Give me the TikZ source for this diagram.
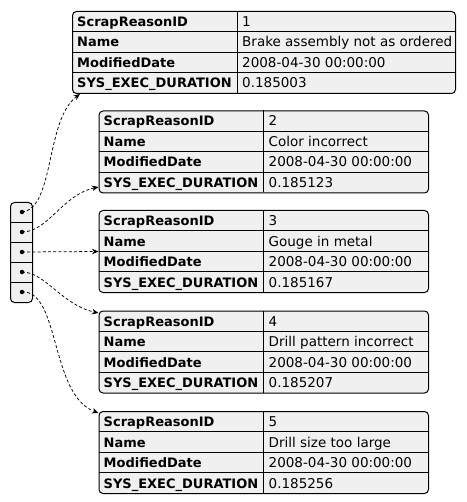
\documentclass[tikz,border=0pt]{standalone}
\usepackage{fontspec}
\setmainfont{DejaVu Sans}
\usetikzlibrary{arrows.meta,calc}
\definecolor{cellfill}{HTML}{F0F0F0}
\tikzset{
  x=1pt, y=-1pt,
  tbl/.style={draw=black, fill=cellfill, rounded corners=4pt, line width=1pt, inner sep=0pt},
  rule/.style={draw=black, line width=0.9pt},
  key/.style={font=\fontsize{13}{15}\selectfont\bfseries, inner sep=0pt, anchor=base west},
  val/.style={font=\fontsize{13.5}{15}\selectfont, inner sep=0pt, anchor=base west},
  dot/.style={circle, fill=black, inner sep=0pt, minimum size=4.5pt},
  link/.style={-{Stealth[length=6.5pt,width=5.5pt]}, dash pattern=on 3pt off 2.2pt, line width=0.75pt},
}
% #1 name, #2 left x, #3 top y, #4 right x, #5 id, #6 reason, #7 duration
\newcommand\recordtable[7]{%
  \node[tbl, anchor=north west, minimum width={(#4-#2)*1pt}, minimum height=82pt] (#1) at (#2,#3) {};
  \foreach \row in {1,2,3} \draw[rule] (#2,{#3+\row*20.5}) -- (#4,{#3+\row*20.5});
  \draw[rule] ({#2+165},#3) -- ({#2+165},{#3+82});
  \node[key] (#1k1) at ({#2+5},{#3+15.5}) {ScrapReasonID};
  \node[key] (#1k2) at ({#2+5},{#3+36}) {Name};
  \node[key] (#1k3) at ({#2+5},{#3+56.5}) {ModifiedDate};
  \node[key] (#1k4) at ({#2+5},{#3+77}) {SYS\_EXEC\_DURATION};
  \node[val] (#1v1) at ({#2+170},{#3+15.5}) {#5};
  \node[val] (#1v2) at ({#2+170},{#3+36}) {#6};
  \node[val] (#1v3) at ({#2+170},{#3+56.5}) {2008-04-30 00:00:00};
  \node[val] (#1v4) at ({#2+170},{#3+77}) {#7};
}
\begin{document}
\begin{tikzpicture}
\useasboundingbox (0,0) rectangle (466,502);

% the five records
\recordtable{t1}{72}{11}{455}{1}{Brake assembly not as ordered}{0.185003}
\recordtable{t2}{98.5}{110.5}{428}{2}{Color incorrect}{0.185123}
\recordtable{t3}{98.5}{210}{428}{3}{Gouge in metal}{0.185167}
\recordtable{t4}{98.5}{310.5}{428}{4}{Drill pattern incorrect}{0.185207}
\recordtable{t5}{98.5}{411}{428}{5}{Drill size too large}{0.185256}

% the array of pointers
\node[tbl, anchor=north west, minimum width=22pt, minimum height=100pt] (arr) at (10,202) {};
\foreach \row in {1,2,3,4} \draw[rule] (10,{202+\row*20}) -- (32,{202+\row*20});
\foreach \i in {1,...,5} \node[dot] (p\i) at (22,{192+\i*20}) {};

% arrow heads land on the record borders
\coordinate (h1) at (80,94);
\coordinate (h2) at (98.5,187);
\coordinate (h4) at (98.5,313);
\coordinate (h5) at (98.5,413);

\draw[link] (p1.center) .. controls (55,208) and (45,120) .. (h1);
\draw[link] (p2.center) .. controls (48,232) and (62,195) .. (h2);
\draw[link] (p3.center) -- (t3.west);
\draw[link] (p4.center) .. controls (45,272) and (62,305) .. (h4);
\draw[link] (p5.center) .. controls (60,290) and (50,395) .. (h5);
\end{tikzpicture}
\end{document}
